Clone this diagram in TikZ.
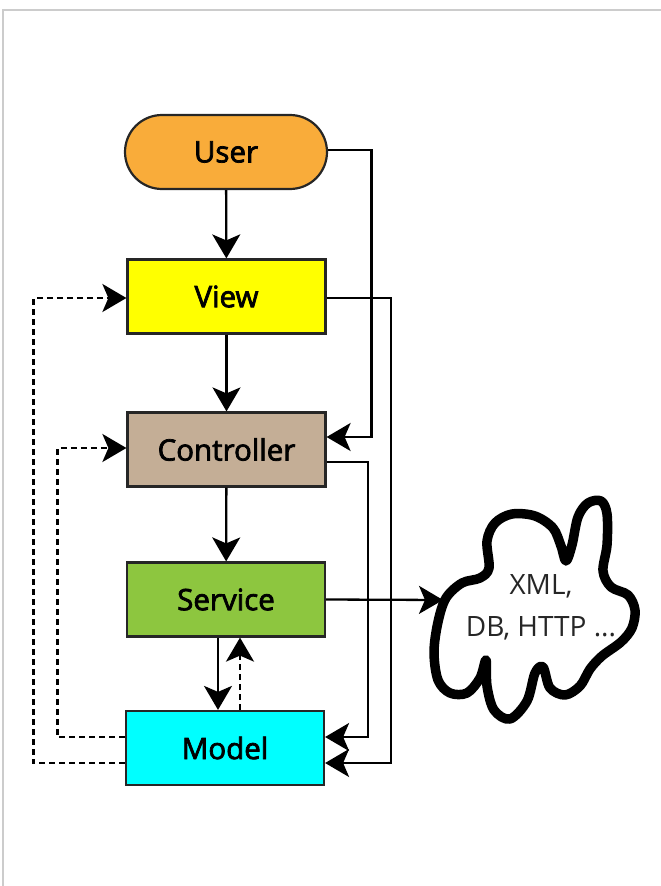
\documentclass[tikz,border=0pt]{standalone}
\usepackage{fontspec}
\setmainfont{Open Sans}
\newfontfamily\labelfont[FakeBold=2.5]{Open Sans}
\usetikzlibrary{arrows.meta}
\definecolor{userfill}{HTML}{F9AC3A}
\definecolor{viewfill}{HTML}{FFFF00}
\definecolor{ctrlfill}{HTML}{C4AE96}
\definecolor{svcfill}{HTML}{8DC63F}
\definecolor{modelfill}{HTML}{00FFFF}
\definecolor{framegray}{HTML}{CCCCCC}
\begin{document}
\begin{tikzpicture}[x=1pt,y=-1pt,
  layer/.style={draw=black!85, line width=2.2pt, minimum width=198pt, minimum height=74pt,
    inner sep=0pt, font=\labelfont\fontsize{29.5}{34}\selectfont},
  arr/.style={line width=2.3pt, -{Stealth[length=24pt,width=28pt,inset=6pt]}},
  dasharr/.style={arr, dash pattern=on 6pt off 4pt},
]
\useasboundingbox (0,0) rectangle (661,886);
% page frame
\draw[framegray, line width=1.2pt] (3,886) -- (3,10) -- (661,10);

% layers
\node[layer, fill=userfill, rounded corners=37pt, minimum width=202pt] (user) at (226,152) {User};
\node[layer, fill=viewfill] (view) at (226.5,296.5) {View};
\node[layer, fill=ctrlfill] (ctrl) at (226.5,449.5) {Controller};
\node[layer, fill=svcfill] (svc) at (226,599.5) {Service};
\node[layer, fill=modelfill] (model) at (225,748) {Model};

% external resources cloud
\coordinate (cloud) at (443,600);
\draw[line width=9.5pt, line join=round]
  plot[smooth cycle, tension=0.55] coordinates {
    (446,598) (462,583) (480,578) (489,568) (487,541) (495,523) (512,514)
    (535,516) (553,528) (561,546) (566,561) (572,545) (578,517) (588,503)
    (601,501) (607,514) (607,545) (603,571) (611,587) (628,595) (635,610)
    (632,628) (621,642) (602,656) (590,669) (580,686) (565,695) (550,688)
    (543,667) (535,673) (527,701) (510,719) (494,710) (487,686) (486,660)
    (480,678) (467,693) (450,693) (438,680) (434,652) (438,622)};
\node[align=center, font=\fontsize{28}{42}\selectfont, text=black!85] (res) at (541,607)
  {XML,\\DB, HTTP ...};

% main flow
\draw[arr] (user) -- (view);
\draw[arr] (view) -- (ctrl);
\draw[arr] (ctrl) -- (svc);
\draw[arr] ([xshift=-8pt]svc.south) -- ([xshift=-7pt]model.north);
\draw[dasharr] ([xshift=15pt]model.north) -- ([xshift=14pt]svc.south);
\draw[arr] (svc.east) -- (cloud);

% bypass links on the right
\draw[arr] ([yshift=2pt]user.east) -| ([xshift=45pt,yshift=12.5pt]ctrl.east) -- ([yshift=12.5pt]ctrl.east);
\draw[arr] ([yshift=-1.5pt]view.east) -| ([xshift=66pt,yshift=-15pt]model.east) -- ([yshift=-15pt]model.east);
\draw[arr] ([yshift=-12.5pt]ctrl.east) -| ([xshift=43pt,yshift=11pt]model.east) -- ([yshift=11pt]model.east);

% notifications back from the model
\draw[dasharr] ([yshift=-15pt]model.west) -| ([xshift=-93pt,yshift=-1.5pt]view.west) -- ([yshift=-1.5pt]view.west);
\draw[dasharr] ([yshift=11pt]model.west) -| ([xshift=-69pt,yshift=1.5pt]ctrl.west) -- ([yshift=1.5pt]ctrl.west);
\end{tikzpicture}
\end{document}
